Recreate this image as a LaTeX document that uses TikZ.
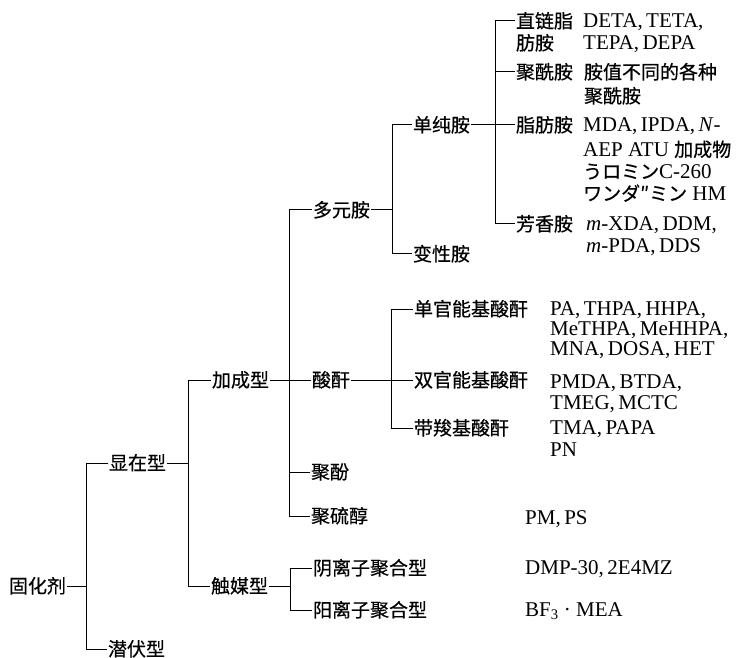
\documentclass[tikz,border=0pt]{standalone}
\usepackage{fontspec}
\setmainfont{Liberation Serif}
\newfontfamily\cjk{Noto Sans CJK SC}[FakeBold=0.5]
\begin{document}
\begin{tikzpicture}[x=1pt,y=-1pt,
  zh/.style={anchor=west,inner sep=0pt,outer sep=1pt,font=\cjk\fontsize{19}{22}\selectfont,text height=16pt,text depth=2pt},
  en/.style={anchor=west,inner sep=0pt,font=\fontsize{21}{23}\selectfont,text height=14pt,text depth=1pt},
  conn/.style={line width=1pt}]
\useasboundingbox (0,0) rectangle (740,658);
% junction x positions
\coordinate (v1) at (86,0);
\coordinate (v2) at (188,0);
\coordinate (v3) at (289,0);
\coordinate (v4) at (392,0);
\coordinate (v5) at (495,0);
\coordinate (v6) at (391,0);
\coordinate (v7) at (290,0);
% tree nodes
\node[zh] (guhua) at (8,586) {固化剂};
\node[zh] (xianzai) at (108,463) {显在型};
\node[zh] (qianfu) at (107,649) {潜伏型};
\node[zh] (jiacheng) at (211,380) {加成型};
\node[zh] (chumei) at (210,586) {触媒型};
\node[zh] (duoyuan) at (312,210) {多元胺};
\node[zh] (suangan) at (311,380) {酸酐};
\node[zh] (jufen) at (310,472) {聚酚};
\node[zh] (juliuchun) at (310,516) {聚硫醇};
\node[zh] (danchun) at (412,125) {单纯胺};
\node[zh] (bianxing) at (412,254) {变性胺};
\node[zh] (zhilian) at (515,21) {直链脂};
\node[zh] (zhilianb) at (515,43) {肪胺};
\node[zh] (juxian) at (515,72) {聚酰胺};
\node[zh] (zhifang) at (515,125) {脂肪胺};
\node[zh] (fangxiang) at (515,224) {芳香胺};
\node[zh] (dan) at (413,309) {单官能基酸酐};
\node[zh] (shuang) at (413,380) {双官能基酸酐};
\node[zh] (dai) at (413,428) {带羧基酸酐};
\node[zh] (yin) at (312,568) {阴离子聚合型};
\node[zh] (yang) at (312,610) {阳离子聚合型};
% examples
\node[en] (e1) at (583,21) {DETA,\,TETA,};
\node[en] (e2) at (583,43) {TEPA,\,DEPA};
\node[zh] (e3) at (583,72) {胺值不同的各种};
\node[zh] (e4) at (583,96) {聚酰胺};
\node[en] (e5) at (583,125) {MDA,\,IPDA,\,\textit{N}-};
\node[en] (e6) at (583,150) {AEP ATU {\cjk\fontsize{19}{22}\selectfont 加成物}};
\node[en] (e7) at (583,172) {{\cjk\fontsize{19}{22}\selectfont うロミン}C-260};
\node[en] (e8) at (583,194) {{\cjk\fontsize{19}{22}\selectfont ワンダ″ミン} HM};
\node[en] (e9) at (586,224) {\textit{m}-XDA,\,DDM,};
\node[en] (e10) at (586,246) {\textit{m}-PDA,\,DDS};
\node[en] (a1) at (550,309) {PA,\,THPA,\,HHPA,};
\node[en] (a2) at (550,329) {MeTHPA,\,MeHHPA,};
\node[en] (a3) at (550,349) {MNA,\,DOSA,\,HET};
\node[en] (a4) at (550,382) {PMDA,\,BTDA,};
\node[en] (a5) at (550,403) {TMEG,\,MCTC};
\node[en] (a6) at (550,428) {TMA,\,PAPA};
\node[en] (a7) at (550,450) {PN};
\node[en] (p1) at (525,518) {PM,\,PS};
\node[en] (c1) at (525,568) {DMP-30,\,2E4MZ};
\node[en] (c2) at (525,610) {BF\textsubscript{3} · MEA};
% connectors
\draw[conn] (guhua.east) -- (guhua.east -| v1);
\draw[conn] (xianzai.west) -- (xianzai.west -| v1) -- (qianfu.west -| v1) -- (qianfu.west);
\draw[conn] (xianzai.east) -- (xianzai.east -| v2);
\draw[conn] (jiacheng.west) -- (jiacheng.west -| v2) -- (chumei.west -| v2) -- (chumei.west);
\draw[conn] (jiacheng.east) -- (suangan.west);
\draw[conn] (duoyuan.west) -- (duoyuan.west -| v3) -- (juliuchun.west -| v3) -- (juliuchun.west);
\draw[conn] (jufen.west) -- (jufen.west -| v3);
\draw[conn] (duoyuan.east) -- (duoyuan.east -| v4);
\draw[conn] (danchun.west) -- (danchun.west -| v4) -- (bianxing.west -| v4) -- (bianxing.west);
\draw[conn] (danchun.east) -- (zhifang.west);
\draw[conn] (zhilian.west) -- (zhilian.west -| v5) -- (fangxiang.west -| v5) -- (fangxiang.west);
\draw[conn] (juxian.west) -- (juxian.west -| v5);
\draw[conn] (suangan.east) -- (shuang.west);
\draw[conn] (dan.west) -- (dan.west -| v6) -- (dai.west -| v6) -- (dai.west);
\draw[conn] (chumei.east) -- (chumei.east -| v7);
\draw[conn] (yin.west) -- (yin.west -| v7) -- (yang.west -| v7) -- (yang.west);
\end{tikzpicture}
\end{document}
